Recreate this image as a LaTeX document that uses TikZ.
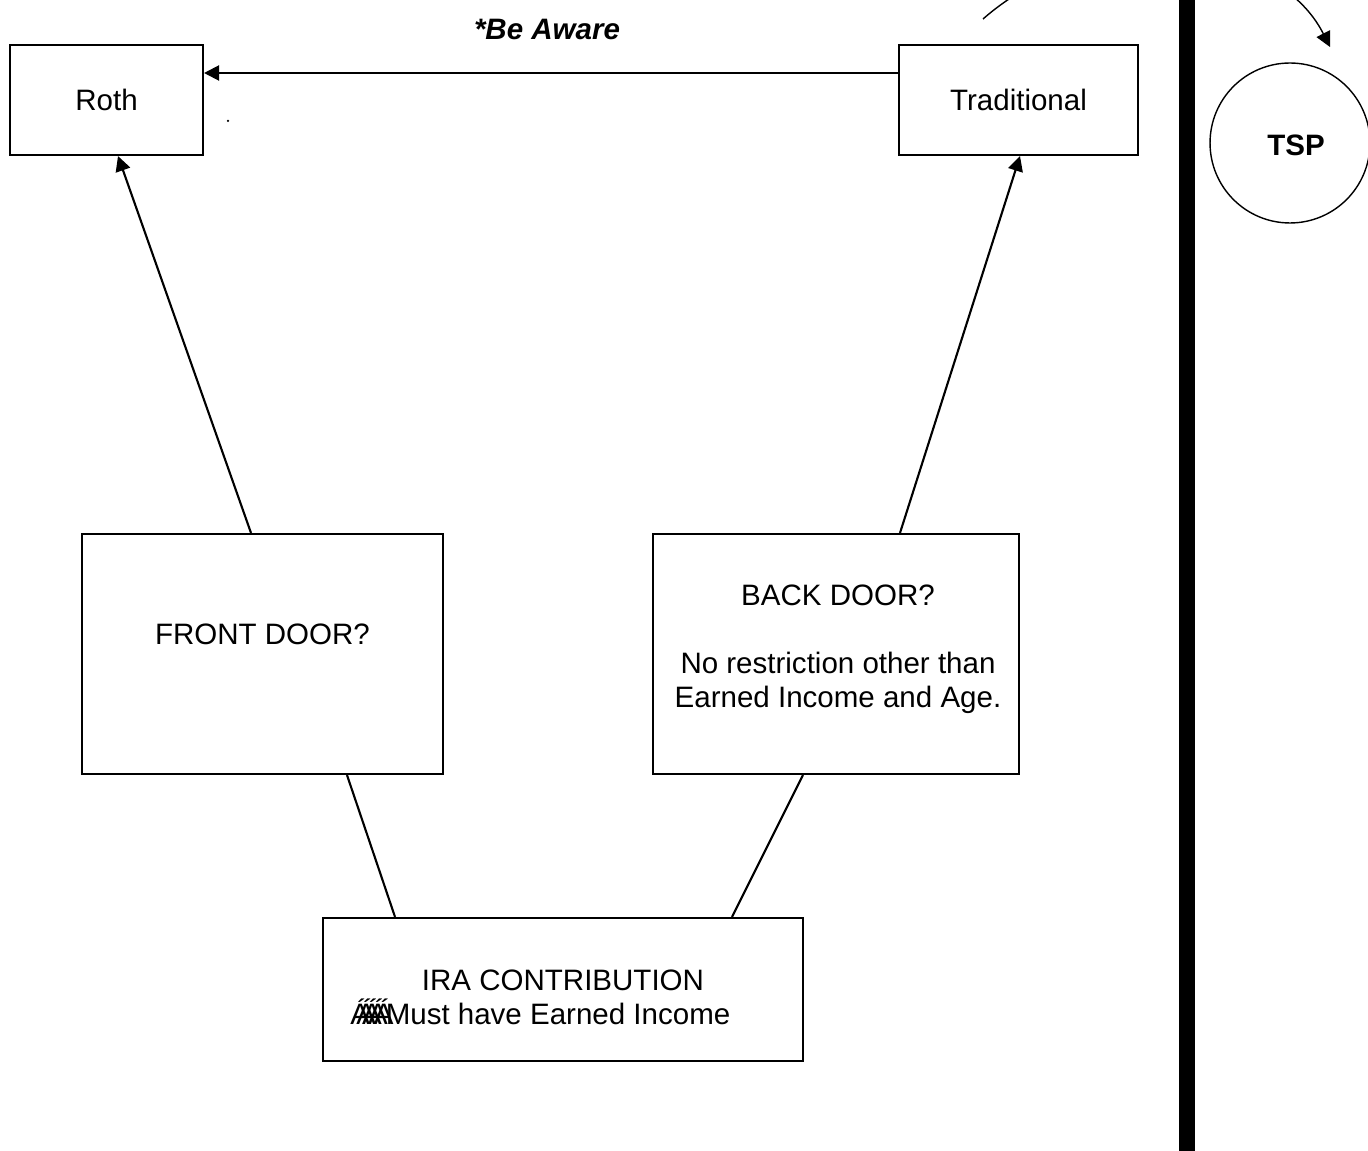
\documentclass[tikz,border=0pt]{standalone}
\usepackage{fontspec}
\setmainfont{Liberation Sans}
\usetikzlibrary{arrows.meta, positioning, calc}

\tikzset{
  box/.style={draw, line width=1.2pt, inner sep=0pt},
  txt/.style={font=\fontsize{16.8}{19.3}\selectfont, inner sep=0pt},
  link/.style={line width=1.2pt},
  arr/.style={line width=1.2pt, -{Triangle[length=0.3cm, width=0.3cm]}},
}

\begin{document}
\begin{tikzpicture}[x=0.02cm, y=-0.02cm]
  \useasboundingbox (0,0) rectangle (1368,1151);
  \clip (0,0) rectangle (1368,1151);

  % accounts on top
  \node[box, txt, minimum width=3.86cm, minimum height=2.2cm] (roth) at (106.5,100) {Roth};
  \node[box, txt, minimum width=4.78cm, minimum height=2.2cm] (trad) at (1018.5,100) {Traditional};
  \node[txt] (aware) at (547,29) {\bfseries\itshape *Be Aware};
  \fill (228,121) circle[radius=0.025cm];

  % doors
  \node[box, minimum width=7.22cm, minimum height=4.8cm] (front) at (262.5,654) {};
  \node[txt] (front-txt) at (262.5,634) {FRONT DOOR?};
  \node[box, minimum width=7.32cm, minimum height=4.8cm] (back) at (836,654) {};
  \node[txt, align=center] (back-txt) at (838,649.5)
    {BACK DOOR?\\ \\No restriction other than\\ Earned Income and Age.};

  % contribution
  \node[box, minimum width=9.6cm, minimum height=2.86cm] (ira) at (563,989.5) {};
  \node[txt] (ira-l1) at (563,980) {IRA CONTRIBUTION};
  \node[txt, anchor=base west] (ira-l2) at (350,1024)
    {\rlap{Á}\kern0.2em\rlap{Á}\kern0.2em\rlap{Á}\kern0.2em\rlap{Á}\kern0.2em\rlap{Á}\kern0.4em Must have Earned Income};

  \draw[link] ([xshift=-3.36cm]ira.north) -- ([xshift=1.69cm]front.south);
  \draw[link] ([xshift=3.38cm]ira.north) -- ([xshift=-0.66cm]back.south);
  \draw[arr] ([xshift=-0.23cm]front.north) -- ([xshift=0.23cm]roth.south);
  \draw[arr] ([xshift=1.28cm]back.north) -- ([xshift=0.03cm]trad.south);
  \draw[arr] ([yshift=0.54cm]trad.west) -- ([yshift=0.54cm]roth.east);

  % TSP side
  \fill (1179,0) rectangle (1195,1151);
  \node[draw, circle, line width=0.8pt, minimum size=3.2cm] (tsp) at (1290,143) {};
  \node[txt] (tsp-txt) at (1296,145) {\bfseries TSP};
  \coordinate (arc-in) at (983,19);
  \coordinate (arc-out) at (1330,47);
  \draw[arr, line width=0.8pt] (arc-in) .. controls (1096,-80) and (1276,-60) .. (arc-out);
\end{tikzpicture}
\end{document}
